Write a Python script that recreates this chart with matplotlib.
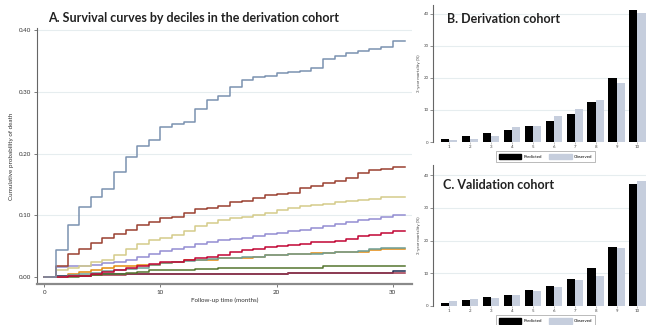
import numpy as np
import matplotlib
matplotlib.use("Agg")
import matplotlib.pyplot as plt
from matplotlib.patches import Patch

plt.rcParams['font.family'] = ['Lato', 'DejaVu Sans']

# cumulative probability of death by month (value holds from month t onward)
months = list(range(0, 31))
end_month = 31.1

d1_navy = [0, 0.001, 0.001, 0.001, 0.004, 0.005, 0.005, 0.005, 0.005, 0.005,
           0.005, 0.005, 0.005, 0.005, 0.005, 0.005, 0.005, 0.005, 0.005, 0.005,
           0.005, 0.006, 0.006, 0.006, 0.006, 0.006, 0.006, 0.006, 0.006, 0.006, 0.009]
d2_maroon = [0, 0.000, 0.001, 0.002, 0.003, 0.003, 0.003, 0.004, 0.004, 0.004,
             0.004, 0.004, 0.004, 0.004, 0.004, 0.004, 0.004, 0.004, 0.005, 0.005,
             0.005, 0.006, 0.006, 0.006, 0.006, 0.006, 0.006, 0.006, 0.006, 0.006, 0.006]
d3_green = [0, 0, 0, 0.002, 0.003, 0.004, 0.005, 0.006, 0.008, 0.011,
            0.011, 0.012, 0.012, 0.013, 0.013, 0.014, 0.014, 0.014, 0.014, 0.015,
            0.015, 0.015, 0.015, 0.015, 0.018, 0.018, 0.018, 0.018, 0.018, 0.018, 0.018]
d4_orange = [0, 0.000, 0.005, 0.008, 0.012, 0.015, 0.017, 0.018, 0.019, 0.020,
             0.022, 0.024, 0.028, 0.028, 0.028, 0.030, 0.030, 0.030, 0.033, 0.035,
             0.036, 0.037, 0.038, 0.039, 0.039, 0.040, 0.040, 0.041, 0.044, 0.045, 0.045]
d5_teal = [0, 0.000, 0.003, 0.005, 0.007, 0.009, 0.011, 0.013, 0.014, 0.020,
           0.022, 0.024, 0.026, 0.028, 0.029, 0.030, 0.031, 0.032, 0.033, 0.035,
           0.036, 0.037, 0.037, 0.038, 0.039, 0.040, 0.040, 0.042, 0.046, 0.047, 0.047]
d6_cranberry = [0, 0, 0.001, 0.002, 0.005, 0.008, 0.011, 0.014, 0.018, 0.021,
                0.024, 0.025, 0.027, 0.030, 0.033, 0.036, 0.040, 0.043, 0.046, 0.049,
                0.050, 0.052, 0.054, 0.056, 0.057, 0.059, 0.062, 0.066, 0.068, 0.071, 0.074]
d7_lavender = [0, 0.016, 0.017, 0.018, 0.020, 0.022, 0.025, 0.028, 0.033, 0.038,
               0.042, 0.045, 0.048, 0.053, 0.057, 0.060, 0.062, 0.064, 0.066, 0.069,
               0.071, 0.074, 0.077, 0.080, 0.083, 0.086, 0.089, 0.092, 0.094, 0.097, 0.100]
d8_khaki = [0, 0.012, 0.014, 0.018, 0.024, 0.028, 0.036, 0.046, 0.053, 0.060,
            0.064, 0.068, 0.075, 0.082, 0.088, 0.092, 0.096, 0.098, 0.101, 0.104,
            0.109, 0.112, 0.115, 0.117, 0.119, 0.121, 0.123, 0.125, 0.127, 0.129, 0.130]
d9_sienna = [0, 0.018, 0.037, 0.046, 0.055, 0.063, 0.069, 0.077, 0.084, 0.090,
             0.095, 0.098, 0.103, 0.110, 0.112, 0.115, 0.121, 0.123, 0.128, 0.133,
             0.134, 0.137, 0.145, 0.148, 0.152, 0.155, 0.161, 0.169, 0.174, 0.176, 0.179]
d10_blue = [0, 0.043, 0.084, 0.114, 0.129, 0.142, 0.170, 0.194, 0.213, 0.223,
            0.243, 0.249, 0.252, 0.273, 0.287, 0.294, 0.308, 0.319, 0.324, 0.326,
            0.331, 0.332, 0.334, 0.339, 0.354, 0.358, 0.363, 0.367, 0.370, 0.374, 0.383]

curves = [d1_navy, d2_maroon, d3_green, d4_orange, d5_teal,
          d6_cranberry, d7_lavender, d8_khaki, d9_sienna, d10_blue]
curve_colors = ['#1a2a50', '#a0354b', '#55752f', '#e38a10', '#6e9e94',
                '#c10534', '#938dd2', '#d4cc8a', '#9a4030', '#7b92b0']

# predicted vs observed mortality (%) by decile
deciles = list(range(1, 11))
deriv_pred = [1.0, 1.9, 2.7, 3.6, 4.9, 6.5, 8.8, 12.5, 19.9, 41.2]
deriv_obs = [0.6, 0.9, 1.9, 4.8, 4.9, 8.0, 10.4, 13.1, 18.3, 40.4]
valid_pred = [1.0, 1.9, 2.7, 3.5, 4.8, 6.2, 8.4, 11.7, 18.0, 37.2]
valid_obs = [1.5, 2.1, 2.5, 3.5, 4.6, 5.8, 8.1, 9.1, 17.7, 38.1]

axis_col = '#666666'
grid_col = '#e6edef'
obs_col = '#c6cedd'
title_size = 9

fig = plt.figure(figsize=(6.46, 3.25), dpi=100)

# ---- A: survival curves ----
ax = fig.add_axes([0.0573, 0.1262, 0.5805, 0.7876])
t = months + [end_month]
for vals, col in zip(curves, curve_colors):
    ax.step(t, vals + [vals[-1]], where='post', color=col, lw=1.1)
ax.set_xlim(-0.63, 31.67)
ax.set_ylim(-0.0114, 0.404)
ax.set_yticks([0, 0.1, 0.2, 0.3, 0.4])
ax.set_yticklabels(['0.00', '0.10', '0.20', '0.30', '0.40'])
ax.set_xticks([0, 10, 20, 30])
for y in [0.1, 0.2, 0.3, 0.4]:
    ax.axhline(y, color=grid_col, lw=0.8, zorder=0)
for s in ['top', 'right']:
    ax.spines[s].set_visible(False)
ax.spines['left'].set_color(axis_col)
ax.spines['bottom'].set_color('#8a8a8a')
ax.spines['bottom'].set_linewidth(1.6)
ax.tick_params(labelsize=4.5, length=2.5, width=0.6, color=axis_col,
               labelcolor='#333333', pad=1.5)
ax.set_ylabel('Cumulative probability of death', fontsize=4.5, color='#333333', labelpad=4)
ax.set_xlabel('Follow-up time (months)', fontsize=4.5, color='#333333', labelpad=2)
fig.text(48 / 646, 1 - 18 / 325, 'A. Survival curves by deciles in the derivation cohort',
         fontsize=title_size, fontweight='bold', color='#222222', va='center', ha='left')


def bar_panel(rect, pred, obs, ytop, title, title_xy):
    bx = fig.add_axes(rect)
    x = np.array(deciles)
    w = 0.39
    bx.bar(x - w / 2, pred, width=w, color='black', label='Predicted', zorder=2)
    bx.bar(x + w / 2, obs, width=w, color=obs_col, label='Observed', zorder=2)
    bx.set_xlim(0.21, 10.41)
    bx.set_ylim(0, ytop)
    bx.set_yticks([0, 10, 20, 30, 40])
    bx.set_xticks(deciles)
    for y in [10, 20, 30, 40]:
        bx.axhline(y, color=grid_col, lw=0.8, zorder=0)
    for s in ['top', 'right', 'bottom']:
        bx.spines[s].set_visible(False)
    bx.spines['left'].set_color(axis_col)
    bx.tick_params(axis='y', labelsize=3.2, length=2, width=0.5, color=axis_col,
                   labelcolor='#444444', pad=1)
    bx.tick_params(axis='x', labelsize=3.2, length=1.5, width=0.5, color='#aaaaaa',
                   labelcolor='#444444', pad=1)
    bx.set_ylabel('3-year mortality (%)', fontsize=3.2, color='#444444', labelpad=2)
    leg = bx.legend(handles=[Patch(color='black', label='Predicted'),
                             Patch(color=obs_col, label='Observed')],
                    loc='upper center', bbox_to_anchor=(0.53, -0.05), ncol=2,
                    fontsize=3.2, frameon=True, fancybox=False, edgecolor='#888888',
                    handlelength=5, handleheight=1.6, columnspacing=1.6,
                    borderpad=0.6, handletextpad=0.6)
    leg.get_frame().set_linewidth(0.5)
    fig.text(title_xy[0] / 646, 1 - title_xy[1] / 325, title, fontsize=title_size,
             fontweight='bold', color='#222222', va='center', ha='left')
    return bx


bar_panel([0.670, 0.563, 0.330, 0.422], deriv_pred, deriv_obs, 42.8,
          'B. Derivation cohort', (447, 19))
bar_panel([0.670, 0.0585, 0.330, 0.4335], valid_pred, valid_obs, 43.1,
          'C. Validation cohort', (443, 185))

fig.savefig('out.png', dpi=100)
